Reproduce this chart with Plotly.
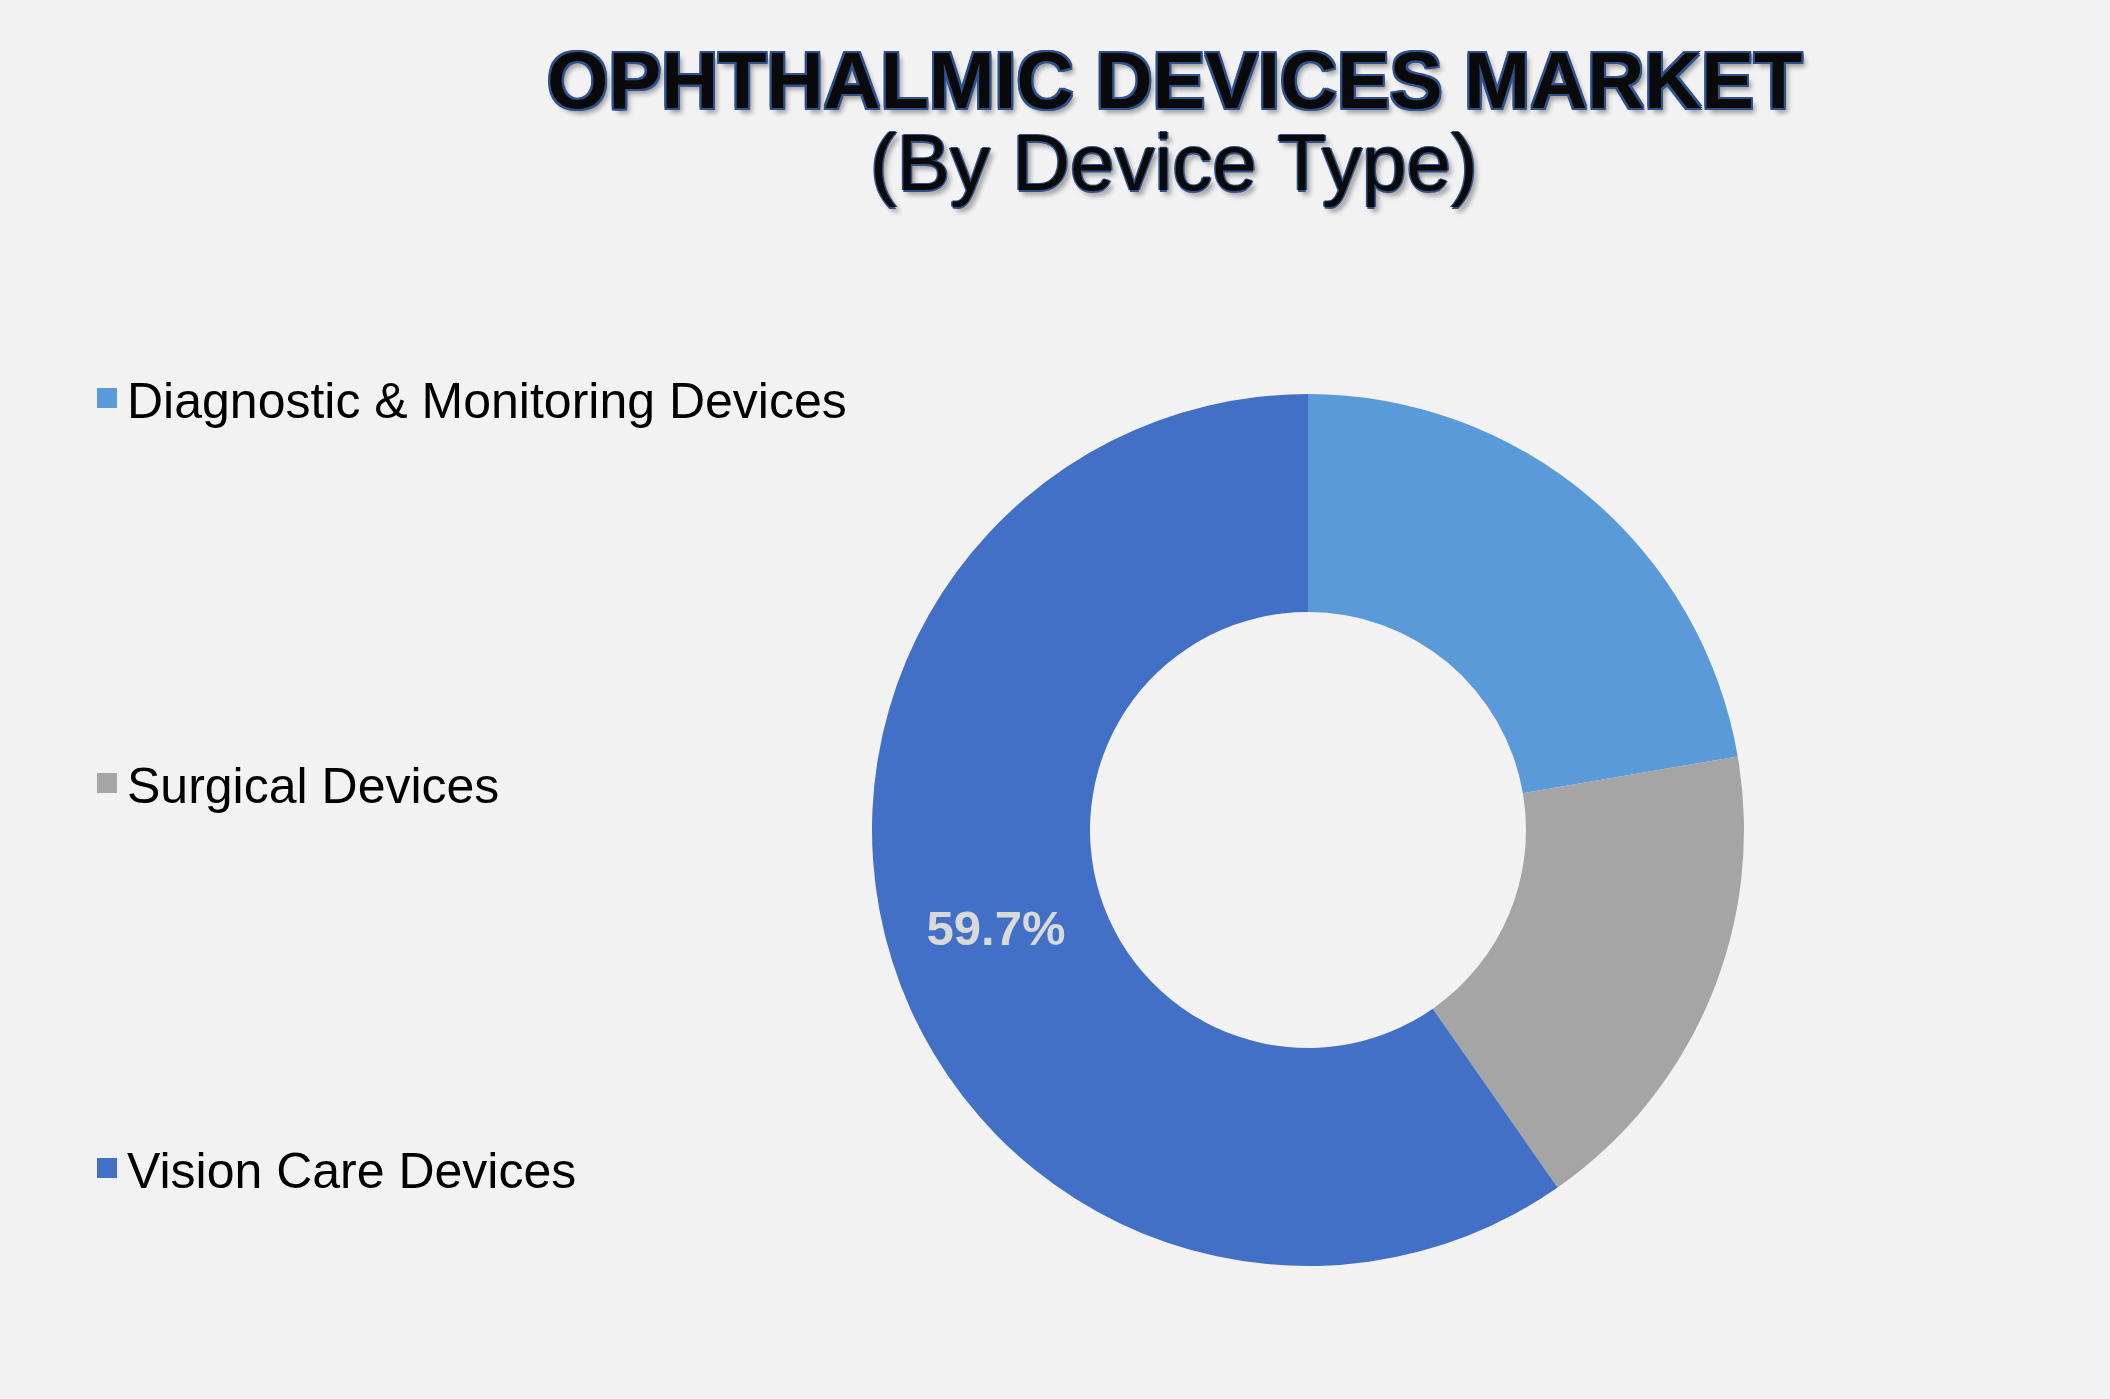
import plotly.graph_objects as go

categories = ["Diagnostic & Monitoring Devices", "Surgical Devices", "Vision Care Devices"]
shares = [22.3, 18.0, 59.7]
show_label = [False, False, True]
colors = ["#5A9AD8", "#A5A5A5", "#4270C6"]

W, H = 2110, 1399
cx, cy, R = 1308, 830, 436

texttemplates = ["%{percent:.1%}" if s else "" for s in show_label]

fig = go.Figure()
fig.add_trace(go.Pie(
    labels=categories,
    values=shares,
    hole=0.5,
    sort=False,
    direction="clockwise",
    rotation=0,
    marker=dict(colors=colors, line=dict(width=0)),
    texttemplate=texttemplates,
    textposition="inside",
    insidetextorientation="horizontal",
    textfont=dict(family="Liberation Sans, Arial", size=49, color="#D9D9D9", weight="bold"),
    showlegend=False,
    hoverinfo="label+percent",
    domain=dict(x=[(cx - R) / W, (cx + R) / W], y=[(H - cy - R) / H, (H - cy + R) / H]),
))

# legend entries (one per category, separate groups for spacing)
for name, col in zip(categories, colors):
    fig.add_trace(go.Scatter(
        x=[None], y=[None], mode="markers", name=name, legendgroup=name,
        marker=dict(symbol="square", size=22, color=col, line=dict(color=col, width=4)),
        showlegend=True, hoverinfo="skip",
    ))

outline = "#2F528F"
shadow1 = (f"2px 0 0 {outline}, -2px 0 0 {outline}, 0 2px 0 {outline}, 0 -2px 0 {outline}, "
           f"2px 2px 0 {outline}, -2px -2px 0 {outline}, 2px -2px 0 {outline}, -2px 2px 0 {outline}, "
           "4px 5px 5px rgba(0,0,0,0.35)")
shadow2 = (f"1.5px 0 0 {outline}, -1.5px 0 0 {outline}, 0 1.5px 0 {outline}, 0 -1.5px 0 {outline}, "
           "4px 5px 5px rgba(0,0,0,0.35)")

fig.add_annotation(
    text="OPHTHALMIC DEVICES MARKET", xref="paper", yref="paper",
    x=1174 / W, y=1 - 80 / H, xanchor="center", yanchor="middle", showarrow=False,
    font=dict(family="Liberation Sans, Arial", size=79, color="#0A0A0A", weight="bold", shadow=shadow1),
)
fig.add_annotation(
    text="(By Device Type)", xref="paper", yref="paper",
    x=1174 / W, y=1 - 162 / H, xanchor="center", yanchor="middle", showarrow=False,
    font=dict(family="Liberation Sans, Arial", size=80, color="#0A0A0A", shadow=shadow2),
)

fig.update_layout(
    width=W, height=H,
    paper_bgcolor="#F2F2F2", plot_bgcolor="#F2F2F2",
    margin=dict(l=0, r=0, t=0, b=0),
    xaxis=dict(visible=False), yaxis=dict(visible=False),
    legend=dict(
        x=87 / W, y=1 - 359 / H, xanchor="left", yanchor="top",
        font=dict(family="Liberation Sans, Arial", size=50, color="#000000"),
        tracegroupgap=317, bgcolor="rgba(0,0,0,0)", itemsizing="trace",
    ),
)

fig.write_html("out.html")
